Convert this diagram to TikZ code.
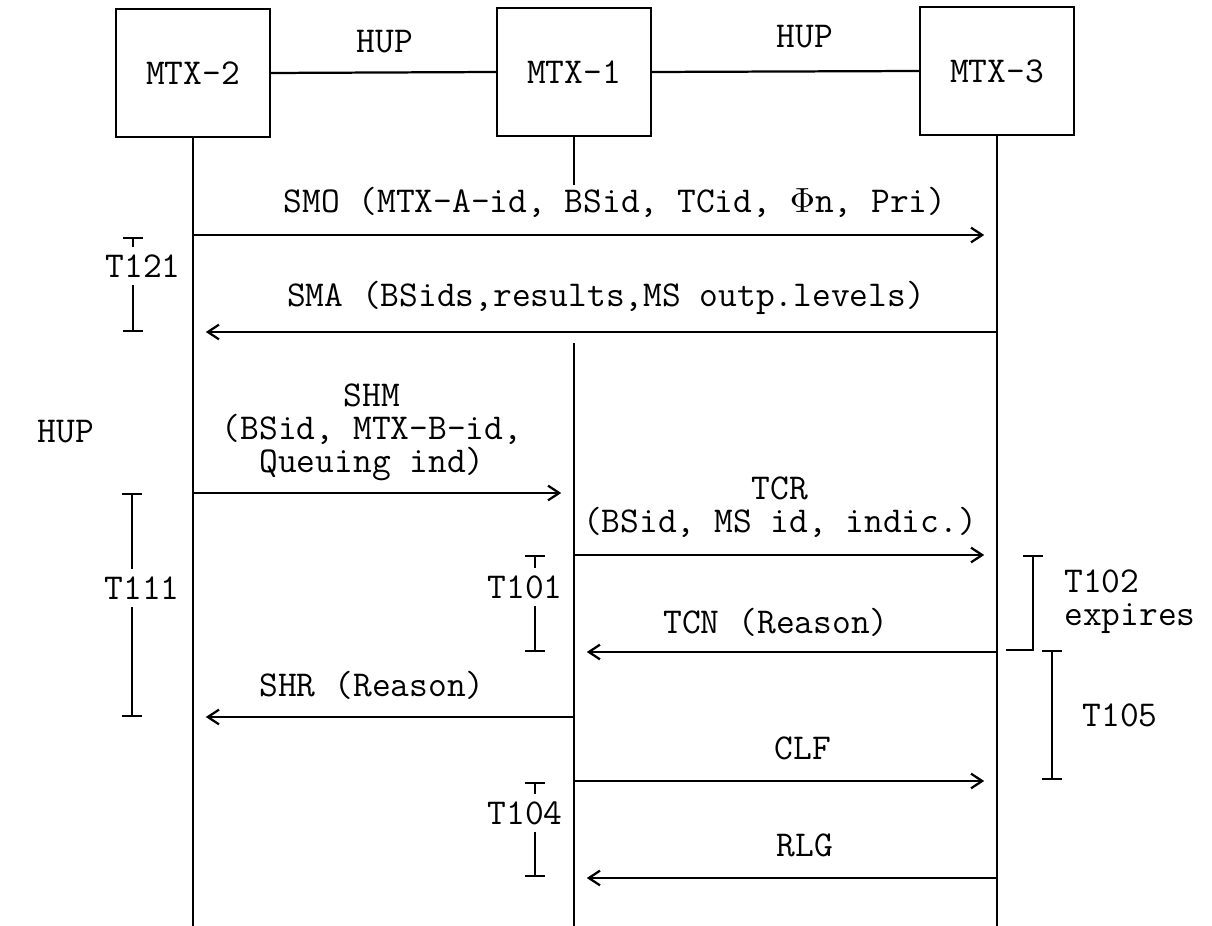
\documentclass[tikz,border=0pt]{standalone}
\usepackage{fontspec}
\usetikzlibrary{arrows.meta}

\begin{document}
\begin{tikzpicture}[x=0.011cm, y=-0.011cm, font=\ttfamily\fontsize{11.4}{10.3}\selectfont,
  line width=0.7pt, >={Straight Barb[length=3.5pt, width=4.6pt]},
  mtx/.style={rectangle, draw, minimum width=1.69cm, minimum height=1.41cm, inner sep=0pt},
  msg/.style={->, shorten >=4pt},
  lbl/.style={align=center, inner sep=1pt},
  tmr/.style={{Bar[width=6pt]}-},
  tmrlbl/.style={inner sep=2pt}]
  \useasboundingbox (0,0) rectangle (1212,926);

  % exchanges
  \node[mtx] (m2) at (193,73) {MTX-2};
  \node[mtx] (m1) at (574,72) {MTX-1};
  \node[mtx] (m3) at (997,71) {MTX-3};
  \draw (m2.east) -- (m1.west);
  \draw (m1.east) -- (m3.west);
  \node[lbl] (hup1) at (385,42) {HUP};
  \node[lbl] (hup2) at (805,37) {HUP};
  \node[lbl] (hup3) at (66,432) {HUP};

  % lifelines
  \coordinate (m2end) at (193,926);
  \coordinate (m3end) at (997,926);
  \coordinate (m1stub) at (574,185);
  \coordinate (m1top) at (574,343);
  \coordinate (m1end) at (574,926);
  \draw (m2.south) -- (m2end);
  \draw (m3.south) -- (m3end);
  \draw (m1.south) -- (m1stub);
  \draw (m1top) -- (m1end);

  % message rows
  \coordinate (ySMO) at (0,235);
  \coordinate (ySMA) at (0,332);
  \coordinate (ySHM) at (0,493);
  \coordinate (yTCR) at (0,555);
  \coordinate (yTCN) at (0,652);
  \coordinate (ySHR) at (0,717);
  \coordinate (yCLF) at (0,781);
  \coordinate (yRLG) at (0,878);

  \node[lbl] (smo) at (615,202) {SMO (MTX-A-id, BSid, TCid, $\Phi$n, Pri)};
  \draw[msg] (m2 |- ySMO) -- (m3 |- ySMO);
  \node[lbl] (sma) at (606,298) {SMA (BSids,results,MS outp.levels)};
  \draw[msg] (m3 |- ySMA) -- (m2 |- ySMA);
  \node[lbl] (shm) at (372,432) {SHM\\(BSid, MTX-B-id,\\Queuing ind)};
  \draw[msg] (m2 |- ySHM) -- (m1 |- ySHM);
  \node[lbl] (tcr) at (780,507) {TCR\\(BSid, MS id, indic.)};
  \draw[msg] (m1 |- yTCR) -- (m3 |- yTCR);
  \node[lbl] (tcn) at (776,622) {TCN (Reason)};
  \draw[msg] (m3 |- yTCN) -- (m1 |- yTCN);
  \node[lbl] (shr) at (372,685) {SHR (Reason)};
  \draw[msg] (m1 |- ySHR) -- (m2 |- ySHR);
  \node[lbl] (clf) at (803,748) {CLF};
  \draw[msg] (m1 |- yCLF) -- (m3 |- yCLF);
  \node[lbl] (rlg) at (805,845) {RLG};
  \draw[msg] (m3 |- yRLG) -- (m1 |- yRLG);

  % timers
  \node[tmrlbl] (t121) at (143,266) {T121};
  \coordinate (t121a) at (133,237);
  \coordinate (t121b) at (133,332);
  \draw[tmr] (t121a) -- (t121a |- t121.north);
  \draw[tmr] (t121b) -- (t121b |- t121.south);

  \node[tmrlbl] (t111) at (142,588) {T111};
  \coordinate (t111a) at (132,493);
  \coordinate (t111b) at (132,717);
  \draw[tmr] (t111a) -- (t111a |- t111.north);
  \draw[tmr] (t111b) -- (t111b |- t111.south);

  \node[tmrlbl] (t101) at (525,587) {T101};
  \coordinate (t101a) at (535,555);
  \coordinate (t101b) at (535,652);
  \draw[tmr] (t101a) -- (t101a |- t101.north);
  \draw[tmr] (t101b) -- (t101b |- t101.south);

  \node[tmrlbl] (t104) at (525,813) {T104};
  \coordinate (t104a) at (535,782);
  \coordinate (t104b) at (535,877);
  \draw[tmr] (t104a) -- (t104a |- t104.north);
  \draw[tmr] (t104b) -- (t104b |- t104.south);

  \coordinate (t102a) at (1033,555);
  \coordinate (t102b) at (1033,650);
  \coordinate (t102c) at (1006,650);
  \draw[tmr] (t102a) -- (t102b) -- (t102c);
  \node[lbl, anchor=west, align=left] (t102) at (1060,602) {T102\\expires};

  \coordinate (t105a) at (1052,650);
  \coordinate (t105b) at (1052,780);
  \draw[{Bar[width=6pt]}-{Bar[width=6pt]}] (t105a) -- (t105b);
  \node[lbl] (t105) at (1120,715) {T105};
\end{tikzpicture}
\end{document}
